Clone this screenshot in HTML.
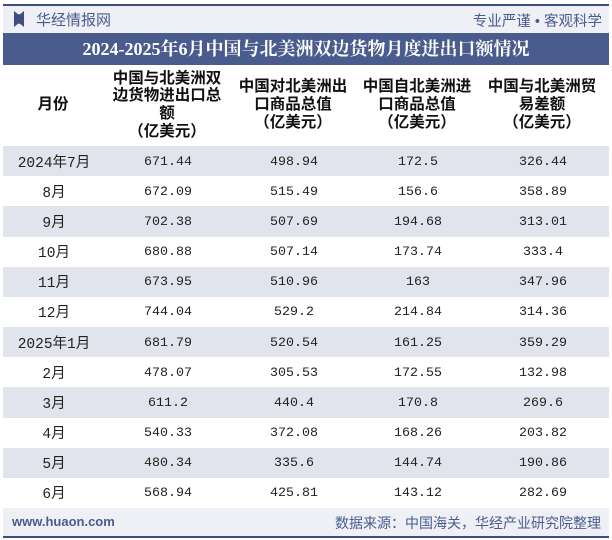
<!DOCTYPE html>
<html><head><meta charset="utf-8">
<style>
body{margin:0;width:612px;height:540px;background:#fff;position:relative;overflow:hidden;font-family:"Liberation Sans","Noto Sans CJK SC",sans-serif;}
.abs{position:absolute;}
#topline{left:3px;top:4px;width:606px;height:2px;background:#3d4f80;}
#head{left:3px;top:6px;width:606px;height:27px;background:#eef0f5;}
#logo{left:14px;top:11px;width:10px;height:16px;background:#3d4f80;clip-path:polygon(0 0,40% 20%,60% 20%,100% 0,100% 100%,60% 80%,40% 80%,0 100%);}
#logotxt{left:36px;top:9px;font-size:15px;color:#4a5c8e;}
#slogan{right:10px;top:10px;font-size:14.5px;color:#4a5c8e;}
#title{left:3px;top:33px;width:606px;height:32px;background:#4a5c8e;color:#fff;font-weight:bold;font-size:18px;line-height:32px;text-align:center;font-family:"Liberation Serif","Noto Serif CJK SC",serif;}
.hd{position:absolute;top:64px;height:82px;display:flex;align-items:center;justify-content:center;text-align:center;font-weight:bold;font-size:15.5px;line-height:17.7px;color:#111;}
#rows{left:3px;top:146px;width:606px;height:362px;display:flex;flex-direction:column;}
.row{flex:1;position:relative;}
.row.s{background:#e1e4ec;}
.c{position:absolute;top:0;bottom:0;display:flex;align-items:center;justify-content:center;font-family:"Liberation Mono","Noto Sans CJK SC",monospace;font-size:13.3px;color:#222;}
.c.m{font-size:14.5px;font-family:"Liberation Mono","Noto Sans CJK SC",monospace;}
#foot{left:3px;top:508px;width:606px;height:28px;background:#eef0f5;}
#site{left:12px;top:514px;font-size:13px;color:#4a5c8e;font-weight:bold;}
#src{right:11px;top:513px;font-size:14px;color:#4a5c8e;}
#botline{left:3px;top:536px;width:606px;height:2px;background:#3d4f80;}
</style></head><body>
<div class="abs" id="topline"></div>
<div class="abs" id="head"></div>
<div class="abs" id="logo"></div>
<div class="abs" id="logotxt">华经情报网</div>
<div class="abs" id="slogan">专业严谨 • 客观科学</div>
<div class="abs" id="title">2024-2025年6月中国与北美洲双边货物月度进出口额情况</div>
<div class="hd" style="left:3px;width:100px">月份</div>
<div class="hd" style="left:107px;width:120px">中国与北美洲双<br>边货物进出口总<br>额<br>（亿美元）</div>
<div class="hd" style="left:233px;width:120px">中国对北美洲出<br>口商品总值<br>（亿美元）</div>
<div class="hd" style="left:357px;width:120px">中国自北美洲进<br>口商品总值<br>（亿美元）</div>
<div class="hd" style="left:482px;width:120px">中国与北美洲贸<br>易差额<br>（亿美元）</div>
<div class="abs" id="rows"></div>
<div class="abs" id="foot"></div>
<div class="abs" id="site">www.huaon.com</div>
<div class="abs" id="src">数据来源：中国海关，华经产业研究院整理</div>
<div class="abs" id="botline"></div>
<script>
const months=["2024年7月","8月","9月","10月","11月","12月","2025年1月","2月","3月","4月","5月","6月"];
const totals=["671.44","672.09","702.38","680.88","673.95","744.04","681.79","478.07","611.2","540.33","480.34","568.94"];
const exports=["498.94","515.49","507.69","507.14","510.96","529.2","520.54","305.53","440.4","372.08","335.6","425.81"];
const imports=["172.5","156.6","194.68","173.74","163","214.84","161.25","172.55","170.8","168.26","144.74","143.12"];
const balances=["326.44","358.89","313.01","333.4","347.96","314.36","359.29","132.98","269.6","203.82","190.86","282.69"];
const centers=[51,165,291,415,540];
const names=["month-cell","total-cell","export-cell","import-cell","balance-cell"];
const body=document.getElementById('rows');
months.forEach((m,i)=>{
  const r=document.createElement('div');
  r.className='row'+(i%2===0?' s':'');
  
  
  const vals=[m,totals[i],exports[i],imports[i],balances[i]];
  vals.forEach((v,j)=>{
    const c=document.createElement('div');
    c.className='c'+(j===0?' m':'');
    c.style.left=(centers[j]-60)+'px';
    c.style.width='120px';
    c.textContent=v;
    
    
    r.appendChild(c);
  });
  body.appendChild(r);
});
</script>
</body></html>
